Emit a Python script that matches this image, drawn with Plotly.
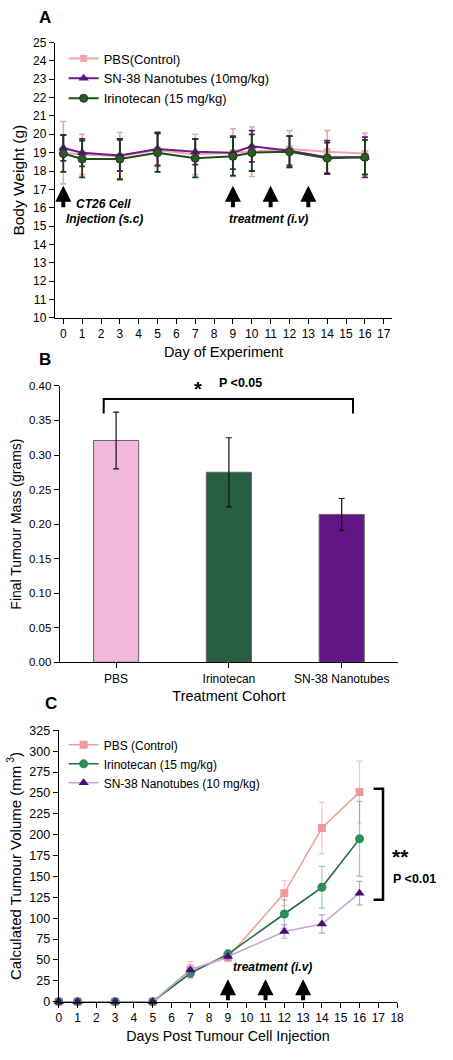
import plotly.graph_objects as go

FONT = "Arial, Liberation Sans, sans-serif"

# ---------------- Panel A data ----------------
days_a = [0, 1, 3, 5, 7, 9, 10, 12, 14, 16]
pbs_a = [19.0, 18.9, 18.8, 19.15, 18.9, 19.0, 19.05, 19.2, 19.05, 18.95]
pbs_a_err = [1.7, 1.1, 1.3, 0.9, 1.1, 1.3, 1.35, 1.0, 1.15, 1.1]
sn38_a = [19.25, 19.0, 18.85, 19.2, 19.05, 19.0, 19.35, 19.1, 18.75, 18.75]
sn38_a_err = [0.7, 0.75, 0.85, 0.9, 0.7, 0.9, 0.85, 0.8, 0.9, 1.1]
irino_a = [18.95, 18.65, 18.65, 19.0, 18.7, 18.8, 19.0, 19.05, 18.7, 18.75]
irino_a_err = [1.0, 1.0, 1.1, 1.05, 1.05, 1.05, 1.0, 0.85, 0.85, 0.95]
arrows_a = [0, 9, 11, 13]

# ---------------- Panel B data ----------------
cohorts = ["PBS", "Irinotecan", "SN-38 Nanotubes"]
mass = [0.321, 0.275, 0.214]
mass_err = [0.041, 0.050, 0.023]

# ---------------- Panel C data ----------------
days_c = [0, 1, 3, 5, 7, 9, 12, 14, 16]
pbs_c = [0, 0, 0, 0, 38, 53, 130, 208, 251]
pbs_c_err = [0, 0, 0, 0, 10, 5, 15, 31, 37]
irino_c = [0, 0, 0, 0, 34, 57, 105, 137, 195]
irino_c_err = [0, 0, 0, 0, 5, 5, 17, 25, 45]
sn38_c = [0, 0, 0, 0, 38, 54, 84, 93, 130]
sn38_c_err = [0, 0, 0, 0, 6, 4, 8, 11, 14]
arrows_c = [9, 11, 13]

W, H = 453, 1060


def py(px):
    return 1 - px / H


def pxx(px):
    return px / W


fig = go.Figure()

# ---- Panel A traces ----
fig.add_trace(go.Scatter(
    x=days_a, y=pbs_a, mode="lines+markers", name="PBS(Control)",
    line=dict(color="#f2a7a7", width=2),
    marker=dict(symbol="square", size=7, color="#f2a7a7"),
    error_y=dict(type="data", array=pbs_a_err, color="#f0a8a8", thickness=1.6, width=3),
    xaxis="x", yaxis="y", legend="legend", cliponaxis=False))
fig.add_trace(go.Scatter(
    x=days_a, y=sn38_a, mode="lines+markers", name="SN-38 Nanotubes (10mg/kg)",
    line=dict(color="#6b1d8e", width=2),
    marker=dict(symbol="triangle-up", size=9, color="#5a1580"),
    error_y=dict(type="data", array=sn38_a_err, color="#5c1a7a", thickness=1.8, width=3),
    xaxis="x", yaxis="y", legend="legend", cliponaxis=False))
fig.add_trace(go.Scatter(
    x=days_a, y=irino_a, mode="lines+markers", name="Irinotecan (15 mg/kg)",
    line=dict(color="#1e4d1e", width=2),
    marker=dict(symbol="circle", size=8, color="#2d5a27", line=dict(color="#143d14", width=1)),
    error_y=dict(type="data", array=irino_a_err, color="#143d14", thickness=1.8, width=3),
    xaxis="x", yaxis="y", legend="legend", cliponaxis=False))

# ---- Panel B bars ----
fig.add_trace(go.Bar(
    x=cohorts, y=mass, width=0.4,
    marker=dict(color=["#f3b6dc", "#275f43", "#621584"], line=dict(color="#666666", width=1)),
    error_y=dict(type="data", array=mass_err, color="#111111", thickness=1.2, width=3),
    xaxis="x2", yaxis="y2", showlegend=False))

# ---- Panel C traces ----
fig.add_trace(go.Scatter(
    x=days_c, y=pbs_c, mode="lines+markers", name="PBS (Control)",
    line=dict(color="#f0a0a0", width=1.6),
    marker=dict(symbol="square", size=8, color="#f09a9a"),
    error_y=dict(type="data", array=pbs_c_err, color="rgba(240,160,160,0.6)", thickness=1.2, width=3),
    xaxis="x3", yaxis="y3", legend="legend2", cliponaxis=False))
fig.add_trace(go.Scatter(
    x=days_c, y=irino_c, mode="lines+markers", name="Irinotecan (15 mg/kg)",
    line=dict(color="#1f6e47", width=1.6),
    marker=dict(symbol="circle", size=9, color="#2e8b5a"),
    error_y=dict(type="data", array=irino_c_err, color="rgba(46,139,90,0.45)", thickness=1.2, width=3),
    xaxis="x3", yaxis="y3", legend="legend2", cliponaxis=False))
fig.add_trace(go.Scatter(
    x=days_c, y=sn38_c, mode="lines+markers", name="SN-38 Nanotubes (10 mg/kg)",
    line=dict(color="#c3a6d6", width=1.6),
    marker=dict(symbol="triangle-up", size=9, color="#4a0a7a"),
    error_y=dict(type="data", array=sn38_c_err, color="rgba(150,100,180,0.6)", thickness=1.2, width=3),
    xaxis="x3", yaxis="y3", legend="legend2", cliponaxis=False))


def axis_common(size):
    return dict(showline=True, linecolor="black", linewidth=1.2, ticks="outside",
                ticklen=5, tickcolor="black", showgrid=False, zeroline=False,
                tickfont=dict(family=FONT, size=size, color="black"))


def paper_text(text, x, y, size, xanchor="center", yanchor="middle"):
    return dict(text=text, x=pxx(x), y=py(y), xref="paper", yref="paper", showarrow=False,
                xanchor=xanchor, yanchor=yanchor, font=dict(family=FONT, size=size, color="black"))


annotations = []
# Panel letters
annotations += [
    paper_text("<b>A</b>", 43, 11, 17),
    paper_text("<b>B</b>", 43, 357, 17),
    paper_text("<b>C</b>", 49, 706, 17),
]

# Panel A arrows
for d in arrows_a:
    annotations.append(dict(x=d, y=17.2, ax=d, ay=15.95, xref="x", yref="y", axref="x", ayref="y",
                            text="", showarrow=True, arrowhead=2, arrowsize=0.8, arrowwidth=4,
                            arrowcolor="black"))
annotations += [
    dict(x=0.55, y=16.2, xref="x", yref="y", text="<b><i>CT26 Cell</i></b>", showarrow=False,
         xanchor="left", font=dict(family=FONT, size=12, color="black")),
    dict(x=0.05, y=15.4, xref="x", yref="y", text="<b><i>Injection (s.c)</i></b>", showarrow=False,
         xanchor="left", font=dict(family=FONT, size=12, color="black")),
    dict(x=10.9, y=15.4, xref="x", yref="y", text="<b><i>treatment (i.v)</i></b>", showarrow=False,
         font=dict(family=FONT, size=12, color="black")),
]

# Panel B significance
annotations += [
    paper_text("<b>*</b>", 199, 387, 20),
    paper_text("<b>P <0.05</b>", 243, 381, 12.5),
]

# Panel C arrows and text
for d in arrows_c:
    annotations.append(dict(x=d, y=27, ax=d, ay=0, xref="x3", yref="y3", axref="x3", ayref="y3",
                            text="", showarrow=True, arrowhead=2, arrowsize=0.8, arrowwidth=4,
                            arrowcolor="black"))
annotations += [
    dict(x=11.35, y=42, xref="x3", yref="y3", text="<b><i>treatment (i.v)</i></b>", showarrow=False,
         font=dict(family=FONT, size=12, color="black")),
    paper_text("<b>**</b>", 406, 875, 21, yanchor="bottom"),
    paper_text("<b>P <0.01</b>", 421, 875, 12.5, yanchor="top"),
]

shapes = [
    # Panel B bracket
    dict(type="path", xref="x2", yref="y2",
         path="M -0.11 0.360 L -0.11 0.381 L 2.1 0.381 L 2.1 0.360",
         line=dict(color="black", width=2)),
    # Panel C bracket
    dict(type="path", xref="x3", yref="y3",
         path="M 16.75 255 L 17.25 255 L 17.25 122 L 16.75 122",
         line=dict(color="black", width=2.5)),
]

fig.update_layout(
    width=W, height=H,
    margin=dict(l=0, r=0, t=0, b=0),
    paper_bgcolor="white", plot_bgcolor="white",
    font=dict(family=FONT, color="black"),
    xaxis=dict(domain=[pxx(53), pxx(398)], range=[-0.45, 17.45], tickmode="linear", tick0=0, dtick=1,
               anchor="y", title=dict(text="Day of Experiment", font=dict(size=14.5), standoff=6),
               **axis_common(12)),
    yaxis=dict(domain=[py(315), py(36)], range=[10, 25], tickmode="linear", tick0=10, dtick=1,
               anchor="x", title=dict(text="Body Weight (g)", font=dict(size=15.5), standoff=4),
               **axis_common(12)),
    xaxis2=dict(domain=[pxx(58), pxx(404)], range=[-0.5, 2.5], anchor="y2",
                title=dict(text="Treatment Cohort", font=dict(size=14.5), standoff=6),
                **axis_common(12)),
    yaxis2=dict(domain=[py(664), py(384)], range=[0, 0.40], tickmode="linear", tick0=0, dtick=0.05,
                tickformat=".2f", anchor="x2",
                title=dict(text="Final Tumour Mass (grams)", font=dict(size=14), standoff=4),
                **axis_common(11.5)),
    xaxis3=dict(domain=[pxx(57), pxx(403)], range=[0, 18], tickmode="linear", tick0=0, dtick=1,
                anchor="y3", title=dict(text="Days Post Tumour Cell Injection", font=dict(size=14.3), standoff=6),
                **axis_common(12)),
    yaxis3=dict(domain=[py(1008), py(733)], range=[0, 325], tickmode="linear", tick0=0, dtick=25,
                anchor="x3", title=dict(text="Calculated Tumour Volume (mm<sup> 3</sup>)", font=dict(size=15), standoff=4),
                **axis_common(12.5)),
    legend=dict(x=pxx(62), y=py(37), xanchor="left", yanchor="top", bgcolor="rgba(0,0,0,0)",
                font=dict(family=FONT, size=13, color="black"), tracegroupgap=0, itemwidth=30),
    legend2=dict(x=pxx(62), y=py(733), xanchor="left", yanchor="top", bgcolor="rgba(0,0,0,0)",
                 font=dict(family=FONT, size=12, color="black"), tracegroupgap=0, itemwidth=30),
    annotations=annotations,
    shapes=shapes,
    showlegend=True,
)

fig.write_html("out.html",
               post_script="document.body.style.margin='0';document.body.style.overflow='hidden';")
